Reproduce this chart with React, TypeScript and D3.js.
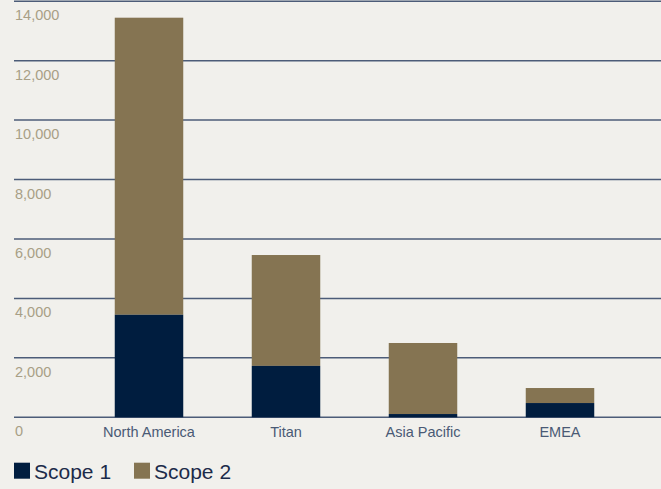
import React from "react";
import * as d3 from "d3";

const categories = ["North America", "Titan", "Asia Pacific", "EMEA"];
const scope1 = [3450, 1730, 110, 480];
const scope2 = [9995, 3730, 2390, 505];
const yTicks = [0, 2000, 4000, 6000, 8000, 10000, 12000, 14000];
const seriesNames = ["Scope 1", "Scope 2"];
const seriesColors = ["#001d3f", "#857452"];

const W = 661;
const H = 489;

export default function App() {
  const y = d3.scaleLinear().domain([0, 14000]).range([417.3, 1.2]);
  const x = d3.scaleBand<string>().domain(categories).range([80.5, 628.5]).paddingInner(0.5).paddingOuter(0.25);
  const fmt = d3.format(",");
  const font = "'Liberation Sans', Arial, Helvetica, sans-serif";
  return (
    <svg width={W} height={H} style={{ position: "fixed", left: 0, top: 0, background: "#f1f0ec" }}>
      <rect x={0} y={0} width={W} height={H} fill="#f1f0ec" />
      {yTicks.map((t) => (
        <g key={t}>
          <line x1={14} x2={W} y1={y(t)} y2={y(t)} stroke="#4c5c78" strokeWidth={1.5} />
          <text x={15} y={y(t) + 19} fontFamily={font} fontSize={14.5} fill="#a89f86">
            {fmt(t)}
          </text>
        </g>
      ))}
      {categories.map((c, i) => {
        const x0 = x(c)!;
        const bw = x.bandwidth();
        return (
          <g key={c}>
            <rect x={x0} width={bw} y={y(scope1[i] + scope2[i])} height={y(scope1[i]) - y(scope1[i] + scope2[i])} fill={seriesColors[1]} />
            <rect x={x0} width={bw} y={y(scope1[i])} height={y(0) - y(scope1[i])} fill={seriesColors[0]} />
            <text x={x0 + bw / 2} y={437} textAnchor="middle" fontFamily={font} fontSize={14.5} fill="#4a5a75">
              {c}
            </text>
          </g>
        );
      })}
      {seriesNames.map((s, i) => (
        <g key={s} transform={`translate(${14 + i * 120},0)`}>
          <rect x={0} y={462.7} width={16} height={16} fill={seriesColors[i]} />
          <text x={20} y={478.5} fontFamily={font} fontSize={21} fill="#1c2b4a">
            {s}
          </text>
        </g>
      ))}
    </svg>
  );
}
